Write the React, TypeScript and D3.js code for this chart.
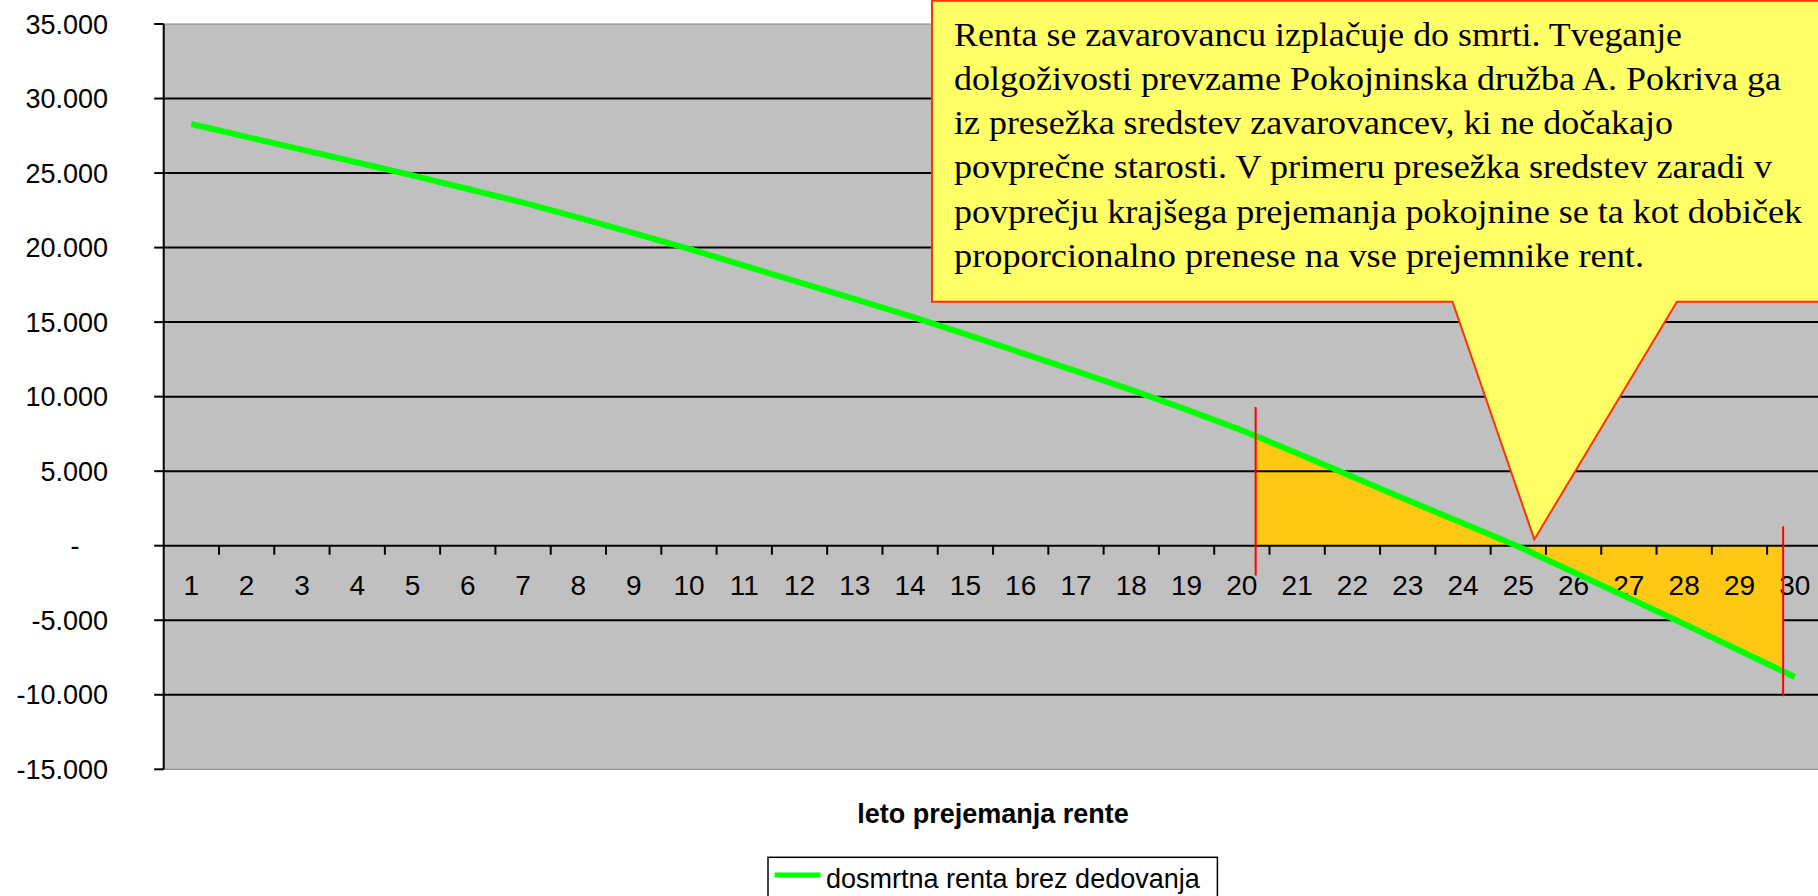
import React from 'react';
import * as d3 from 'd3';

const categories = [1, 2, 3, 4, 5, 6, 7, 8, 9, 10, 11, 12, 13, 14, 15, 16, 17, 18, 19, 20, 21, 22, 23, 24, 25, 26, 27, 28, 29, 30];
const values = [28290, 27430, 26570, 25710, 24845, 23930, 23020, 22017, 20970, 19921, 18790, 17660, 16535, 15405, 14200, 12955, 11710, 10460, 9134, 7740, 6200, 4620, 3050, 1500, -50, -1780, -3510, -5250, -7030, -8805];
const yTicks = [35000, 30000, 25000, 20000, 15000, 10000, 5000, 0, -5000, -10000, -15000];
const yTickLabels = ['35.000', '30.000', '25.000', '20.000', '15.000', '10.000', '5.000', '-', '-5.000', '-10.000', '-15.000'];
const markerPositions = [20.25, 29.79];
const markerRanges = [[9300, -2000], [1300, -10100]];
const seriesName = 'dosmrtna renta brez dedovanja';
const axisTitle = 'leto prejemanja rente';
const calloutLines = [
  'Renta se zavarovancu izplačuje do smrti. Tveganje',
  'dolgoživosti prevzame Pokojninska družba A. Pokriva ga',
  'iz presežka sredstev zavarovancev, ki ne dočakajo',
  'povprečne starosti. V primeru presežka sredstev zaradi v',
  'povprečju krajšega prejemanja pokojnine se ta kot dobiček',
  'proporcionalno prenese na vse prejemnike rent.',
];
const calloutLineWidths = [728, 827, 719, 818, 848, 690];
const calloutTip = { cat: 25.29, value: 420 };
const calloutBase = [23.81, 27.87];

const W = 1818;
const H = 896;
const P = { left: 163.7, right: 1822.4, top: 24, bottom: 769.3 };

export default function App() {
  const x = d3.scaleLinear().domain([0.5, categories.length + 0.5]).range([P.left, P.right]);
  const y = d3.scaleLinear().domain([-15000, 35000]).range([P.bottom, P.top]);

  const f = (c: number) => {
    const i = Math.min(Math.max(Math.floor(c) - 1, 0), values.length - 2);
    const t = c - categories[i];
    return values[i] + (values[i + 1] - values[i]) * t;
  };
  let zc = 25;
  for (let i = 0; i < values.length - 1; i++) {
    if (values[i] >= 0 && values[i + 1] < 0) {
      zc = categories[i] + values[i] / (values[i] - values[i + 1]);
      break;
    }
  }
  const m0 = markerPositions[0];
  const m1 = markerPositions[1];
  const areaA: [number, number][] = [[m0, 0], [m0, f(m0)]];
  categories.forEach((c, i) => { if (c > m0 && c < zc) areaA.push([c, values[i]]); });
  areaA.push([zc, 0]);
  const areaB: [number, number][] = [[zc, 0]];
  categories.forEach((c, i) => { if (c > zc && c < m1) areaB.push([c, values[i]]); });
  areaB.push([m1, f(m1)], [m1, 0]);

  const poly = (pts: [number, number][]) =>
    'M' + pts.map(([c, v]) => `${x(c)},${y(v)}`).join('L') + 'Z';

  const line = d3.line<number>().x((_, i) => x(categories[i])).y((v) => y(v));

  const y0 = y(0);
  const boxL = 932, boxT = 0.8, boxR = 1830, boxB = 301.7;
  const tipX = x(calloutTip.cat), tipY = y(calloutTip.value);
  const bL = x(calloutBase[0]), bR = x(calloutBase[1]);
  const calloutPath = `M${boxL},${boxT}L${boxR},${boxT}L${boxR},${boxB}L${bR},${boxB}L${tipX},${tipY}L${bL},${boxB}L${boxL},${boxB}Z`;

  const sans = "Arial, 'Liberation Sans', sans-serif";
  const serif = "Garamond, 'Liberation Serif', 'Times New Roman', serif";

  return (
    <svg width={W} height={H} style={{ position: 'absolute', left: 0, top: 0, display: 'block', background: '#fff' }}>
      <rect x={0} y={0} width={W} height={H} fill="#ffffff" />
      <rect x={P.left} y={P.top} width={P.right - P.left} height={P.bottom - P.top} fill="#C0C0C0" stroke="#808080" strokeWidth={1} />
      <path d={poly(areaA)} fill="#FFC815" />
      {yTicks.map((t) =>
        t === 35000 || t === -15000 || t === 0 ? null : (
          <line key={'g' + t} x1={P.left} x2={P.right} y1={y(t)} y2={y(t)} stroke="#000" strokeWidth={2} />
        )
      )}
      <path d={poly(areaB)} fill="#FFC815" />
      {yTicks.map((t) => (
        <line key={'yt' + t} x1={P.left - 9.5} x2={P.left} y1={y(t)} y2={y(t)} stroke="#000" strokeWidth={2} />
      ))}
      <line x1={P.left} x2={P.left} y1={P.top} y2={P.bottom} stroke="#000" strokeWidth={2} />
      <line x1={P.left} x2={P.right} y1={y0} y2={y0} stroke="#000" strokeWidth={2} />
      {categories.map((c) => (
        <line key={'xt' + c} x1={x(c + 0.5)} x2={x(c + 0.5)} y1={y0} y2={y0 + 9} stroke="#000" strokeWidth={2} />
      ))}
      {yTicks.map((t, i) => (
        <text key={'yl' + t} x={t === 0 ? 75 : 108} y={y(t) + 9.5} textAnchor={t === 0 ? 'middle' : 'end'} fontFamily={sans} fontSize={27} fill="#000">
          {yTickLabels[i]}
        </text>
      ))}
      {categories.map((c) => (
        <text key={'xl' + c} x={x(c)} y={y0 + 49.5} textAnchor="middle" fontFamily={sans} fontSize={28} fill="#000">
          {c}
        </text>
      ))}
      <path d={line(values) || ''} fill="none" stroke="#00FF00" strokeWidth={6} strokeLinejoin="round" />
      {markerPositions.map((m, i) => (
        <line key={'m' + i} x1={x(m)} x2={x(m)} y1={y(markerRanges[i][0])} y2={y(markerRanges[i][1])} stroke="#FF0000" strokeWidth={2} />
      ))}
      <text x={(P.left + P.right) / 2} y={823} textAnchor="middle" fontFamily={sans} fontWeight="bold" fontSize={27} fill="#000">
        {axisTitle}
      </text>
      <rect x={768} y={857.3} width={449.4} height={60} fill="#fff" stroke="#000" strokeWidth={1.5} />
      <line x1={774.6} x2={820.5} y1={875} y2={875} stroke="#00FF00" strokeWidth={5} />
      <text x={826} y={888} fontFamily={sans} fontSize={27} fill="#000">{seriesName}</text>
      <path d={calloutPath} fill="#FFFF66" stroke="#FF3300" strokeWidth={2} strokeLinejoin="miter" />
      {calloutLines.map((s, i) => (
        <text key={'c' + i} x={954} y={45.5 + i * 44.3} fontFamily={serif} fontSize={33} fill="#000" textLength={calloutLineWidths[i]} lengthAdjust="spacingAndGlyphs">
          {s}
        </text>
      ))}
    </svg>
  );
}
